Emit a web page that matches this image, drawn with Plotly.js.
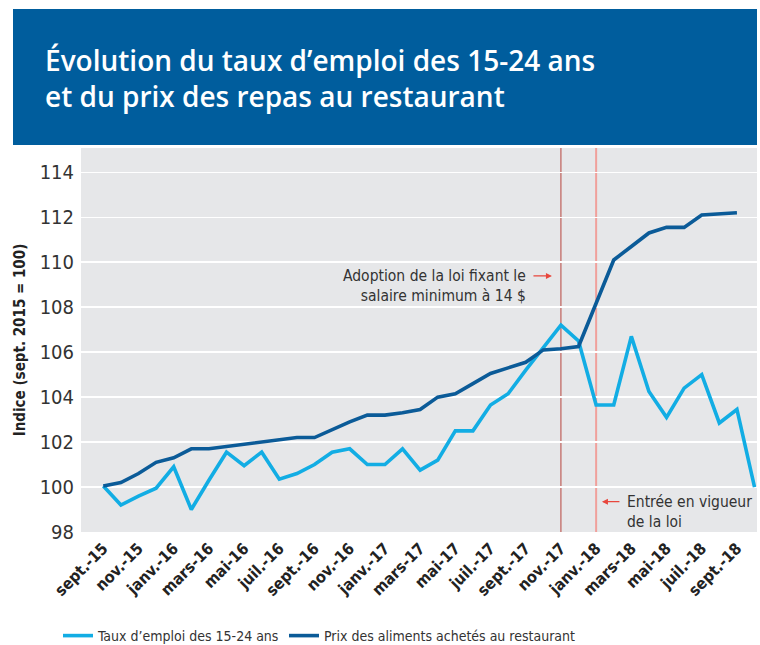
<!DOCTYPE html>
<html>
<head>
<meta charset="utf-8">
<script src="https://cdn.plot.ly/plotly-3.0.1.min.js"></script>
<style>html,body{margin:0;padding:0;background:#fff;}#chart{width:760px;height:645px;}</style>
</head>
<body>
<div id="chart"></div>
<script>
// Months, sept. 2015 to oct. 2018
var months = ['sept.-15','oct.-15','nov.-15','déc.-15','janv.-16','févr.-16','mars-16','avr.-16','mai-16','juin-16','juil.-16','août-16',
  'sept.-16','oct.-16','nov.-16','déc.-16','janv.-17','févr.-17','mars-17','avr.-17','mai-17','juin-17','juil.-17','août-17',
  'sept.-17','oct.-17','nov.-17','déc.-17','janv.-18','févr.-18','mars-18','avr.-18','mai-18','juin-18','juil.-18','août-18',
  'sept.-18','oct.-18'];
// Taux d'emploi des 15-24 ans (index, sept. 2015 = 100)
var emploi = [100.05, 99.2, 99.6, 99.95, 100.9, 99.0, 100.3, 101.55, 100.95, 101.55, 100.35, 100.6,
  101.0, 101.55, 101.7, 101.0, 101.0, 101.7, 100.75, 101.2, 102.5, 102.5, 103.65, 104.15,
  105.2, 106.2, 107.2, 106.5, 103.65, 103.65, 106.7, 104.25, 103.1, 104.4, 105.0, 102.85,
  103.45, 100.0];
// Prix des aliments achetés au restaurant (index, sept. 2015 = 100)
var prix = [100.05, 100.2, 100.6, 101.1, 101.3, 101.7, 101.7, 101.8, 101.9, 102.0, 102.1, 102.2,
  102.2, 102.55, 102.9, 103.2, 103.2, 103.3, 103.45, 104.0, 104.15, 104.6, 105.05, 105.3,
  105.55, 106.1, 106.15, 106.25, 108.2, 110.1, 110.7, 111.3, 111.55, 111.55, 112.1, 112.15,
  112.2];
var tickMonths = months.filter(function(m, i){ return i % 2 === 0 && i <= 36; });
var yTicks = [98, 100, 102, 104, 106, 108, 110, 112, 114];
var adoptionMonth = 'nov.-17';
var vigueurMonth = 'janv.-18';

var narrow = "'DejaVu Sans Condensed', 'Liberation Sans Narrow', sans-serif";
var txt = '#333333';

var traces = [
  {x: months.slice(0, emploi.length), y: emploi, type: 'scatter', mode: 'lines',
   name: 'Taux d’emploi des 15-24 ans', line: {color: '#12ade4', width: 3.6}, legend: 'legend'},
  {x: months.slice(0, prix.length), y: prix, type: 'scatter', mode: 'lines',
   name: 'Prix des aliments achetés au restaurant', line: {color: '#0b5b98', width: 3.6}, legend: 'legend2'}
];

var legendStyle = function(xpx) {
  return {
    orientation: 'h',
    x: (xpx - 81) / 676, xanchor: 'left',
    y: (532 - 636) / 384, yanchor: 'middle',
    font: {family: narrow, size: 14, color: txt},
    itemwidth: 30,
    bgcolor: 'rgba(0,0,0,0)'
  };
};

var layout = {
  width: 760, height: 645,
  margin: {l: 81, r: 3, t: 148, b: 113, autoexpand: false},
  paper_bgcolor: '#ffffff',
  plot_bgcolor: '#e6e7e9',
  showlegend: true,
  title: {
    text: 'Évolution du taux d’emploi des 15-24 ans<br>et du prix des repas au restaurant',
    font: {family: '"Open Sans", Lato, sans-serif', size: 28, color: '#ffffff', weight: 600},
    xref: 'container', x: 45/760, xanchor: 'left',
    yref: 'container', y: 1 - 71/645, yanchor: 'middle'
  },
  xaxis: {
    type: 'category',
    categoryorder: 'array', categoryarray: months,
    range: [-1.267, 37.14],
    tickmode: 'array', tickvals: tickMonths, ticktext: tickMonths,
    tickangle: -45,
    tickfont: {family: narrow, size: 16, color: '#222222', weight: 700},
    ticklabelstandoff: 3,
    showgrid: false, zeroline: false, showline: false, ticks: '',
    automargin: false,
    fixedrange: true
  },
  yaxis: {
    range: [98, 115.08],
    tickmode: 'array', tickvals: yTicks,
    tickfont: {family: narrow, size: 20, color: txt},
    showgrid: true, gridcolor: '#ffffff', gridwidth: 1.5,
    zeroline: false, showline: false, ticks: '',
    ticklabelstandoff: 6,
    automargin: false,
    title: {text: 'Indice (sept. 2015 = 100)', font: {family: narrow, size: 15, color: '#222222', weight: 700}, standoff: 10},
    fixedrange: true
  },
  legend: legendStyle(58),
  legend2: legendStyle(284),
  shapes: [
    {type: 'rect', xref: 'paper', yref: 'paper', x0: (13 - 81) / 676, x1: 1, y0: (532 - 145) / 384, y1: (532 - 9) / 384,
     fillcolor: '#005d9d', line: {width: 0}, layer: 'below'},
    {type: 'line', xref: 'x', yref: 'paper', x0: adoptionMonth, x1: adoptionMonth, y0: 0, y1: 1,
     line: {color: '#b8453d', width: 1}, layer: 'below'},
    {type: 'line', xref: 'x', yref: 'paper', x0: vigueurMonth, x1: vigueurMonth, y0: 0, y1: 1,
     line: {color: '#f0a09c', width: 2}, layer: 'below'}
  ],
  annotations: [
    {xref: 'x', yref: 'y', x: 24.13, y: 108.95, xanchor: 'right', yanchor: 'middle', align: 'right',
     text: 'Adoption de la loi fixant le<br>salaire minimum à 14 $', showarrow: false,
     font: {family: narrow, size: 15.5, color: txt}},
    {xref: 'x', yref: 'y', x: 25.49, y: 109.39, text: '', showarrow: true, ax: -20, ay: 0,
     arrowcolor: '#e8473d', arrowhead: 2, arrowsize: 1, arrowwidth: 1.2},
    {xref: 'x', yref: 'y', x: 29.64, y: 98.9, xanchor: 'left', yanchor: 'middle', align: 'left',
     text: 'Entrée en vigueur<br>de la loi', showarrow: false,
     font: {family: narrow, size: 15.5, color: txt}},
    {xref: 'x', yref: 'y', x: 28.33, y: 99.35, text: '', showarrow: true, ax: 19, ay: 0,
     arrowcolor: '#e8473d', arrowhead: 2, arrowsize: 1, arrowwidth: 1.2}
  ]
};

Plotly.newPlot('chart', traces, layout, {displayModeBar: false, staticPlot: true});
</script>
</body>
</html>
